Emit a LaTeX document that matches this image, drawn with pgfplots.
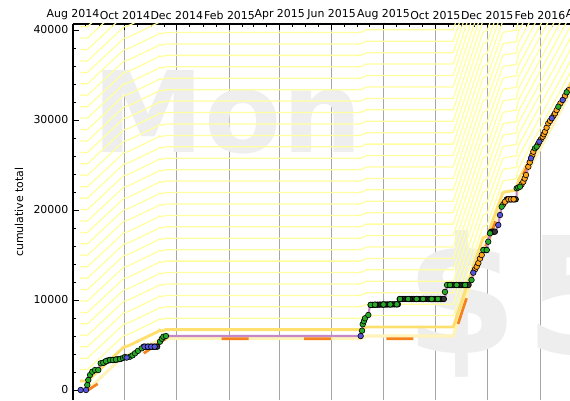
\documentclass[border=0pt]{standalone}
\usepackage{fontspec}
\setmainfont{DejaVu Sans}
\newfontfamily\wmfont{DejaVu Sans}
\usepackage{pgfplots}
\pgfplotsset{compat=1.18}
\usepackage{pgfplotstable}

\definecolor{fan}{RGB}{255,255,160}
\definecolor{bright}{RGB}{255,224,110}
\definecolor{palebase}{RGB}{255,243,185}
\definecolor{orangeline}{RGB}{245,130,30}
\definecolor{purp}{RGB}{198,135,198}
\definecolor{mgreen}{RGB}{40,170,40}
\definecolor{mblue}{RGB}{85,85,220}
\definecolor{morange}{RGB}{255,165,30}
\definecolor{wm}{RGB}{238,238,238}
\definecolor{gridgray}{RGB}{165,165,165}

% template shape of the yellow fan (relative to its flat level)
\pgfplotstableread{
d r
8 -5700
17 -5700
60 -1900
63 -1850
67 -1700
100 -200
102 -50
104 -150
109 0
338 0
345 300
447 300
482 10200
487 10400
505 15150
507 15300
521 15500
524 16700
600 30000
}\tmpl

\pgfplotstableread{
d v
9 0
15.3 0
16.8 556
18 1111
20 1667
22.7 2033
25.9 2222
29.7 2222
32.6 2967
35.6 3033
38.8 3200
43.5 3333
47 3333
50.6 3380
55.3 3444
58.8 3550
61.1 3667
63.1 3600
67 3700
72.9 4078
76.4 4350
80.8 4633
82.3 4811
99.9 4811
102.3 5367
106.2 5922
109.3 6000
338.2 6000
339.8 6589
340.6 7300
343.3 7967
347.2 8333
349.2 9444
382.1 9522
383.3 10111
437.3 10111
439.7 11667
466.7 11667
468.5 12222
470.6 13033
472.6 13400
474.6 13700
476.5 14100
478.5 14600
480.5 15000
482.4 15556
486.4 15556
488.2 16478
490.2 17411
491.5 17589
496 17589
498 17900
500 18333
502 19444
504 20367
505.9 20650
507.9 20922
509.9 21189
521.6 21189
521.6 22411
525.5 22589
527.4 22850
529.4 23144
531 23500
532.6 23889
533.4 24078
535.3 24811
537 25300
538.4 25744
540 26100
541.2 26478
543.1 26856
545.1 27033
546.7 27300
548.2 27589
550 27850
552.2 28144
553.5 28420
554.9 28700
556.8 29150
558.8 29633
560.8 29900
562.8 30189
564.8 30460
566.7 30744
568.6 31100
570.6 31478
573 31850
575.7 32222
578.4 32667
580.4 33078
582.5 33300
586 33700
590 34200
}\cumul

\pgfplotstableread{
d v
36.5 3050
38 3150
40 3250
42 3300
44 3333
46 3333
48 3340
50 3370
52 3400
54 3430
56 3460
83 4811
85 4811
87 4811
89 4811
91 4811
93 4811
95 4811
97 4811
99 4811
350 9460
352 9465
354 9470
356 9475
358 9480
360 9485
362 9490
364 9495
366 9500
368 9500
370 9505
372 9510
374 9510
376 9515
378 9515
380 9520
382 9522
384 10111
386 10111
388 10111
390 10111
392 10111
394 10111
396 10111
398 10111
400 10111
402 10111
404 10111
406 10111
408 10111
410 10111
412 10111
414 10111
416 10111
418 10111
420 10111
422 10111
424 10111
426 10111
428 10111
430 10111
432 10111
434 10111
436 10111
441 11667
443 11667
445 11667
447 11667
449 11667
451 11667
453 11667
455 11667
457 11667
459 11667
461 11667
463 11667
465 11667
483 15556
484.5 15556
486 15556
491.5 17589
493 17589
494.5 17589
496 17589
510 21189
511.5 21189
513 21189
514.5 21189
516 21189
517.5 21189
519 21189
520.5 21189
}\blackpts

\pgfplotstableread{
d v
16.8 556
18 1111
20 1667
22.7 2033
25.9 2222
29.7 2222
32.6 2967
35.6 3033
38.8 3200
43.5 3333
47 3333
50.6 3380
55.3 3444
58.8 3550
61.1 3667
67 3700
70 3850
72.9 4078
76.4 4350
80.8 4633
102.3 5367
104.5 5700
106.2 5922
109.3 6000
339.8 6589
340.6 7300
342 7650
343.3 7967
347.2 8333
350 9460
355 9475
365 9500
373 9510
380.6 9520
384.5 10111
394 10111
404 10111
411.5 10111
421.7 10111
429 10111
437.3 10900
439.7 11667
443.2 11667
451 11667
461 11667
468.5 12222
482.4 15556
486.4 15556
488.2 16478
490.2 17411
504 20367
521.6 22411
523.5 22500
525.5 22589
543.1 26856
545.1 27033
570.6 31478
580.4 33078
}\greenpts

\pgfplotstableread{
d v
9 0
15.3 0
63.1 3600
84 4811
88 4811
92 4811
96 4811
338.2 6000
470.6 13033
500 18333
502 19444
538.4 25744
548.2 27589
562.8 30189
575.7 32222
}\bluepts

\pgfplotstableread{
d v
472.6 13400
474.6 13700
476.5 14100
478.5 14600
480.5 15000
505.9 20650
507.9 20922
512 21189
515 21189
518 21189
527.4 22850
529.4 23144
531 23500
532.6 23889
535.3 24811
537 25300
540 26100
541.2 26478
546.7 27300
550 27850
552.2 28144
553.5 28420
554.9 28700
556.8 29150
558.8 29633
560.8 29900
564.8 30460
566.7 30744
568.6 31100
573 31850
578.4 32667
582.5 33300
586 33700
}\orangepts

\pgfplotstableread{
d v
18 0
109 5700
447 5700
463 10300
470 12400
476 14000
482 15300
490 17000
505 20800
521 22300
540 26000
560 29800
580 33000
590 34300
}\proj

\begin{document}
\begin{tikzpicture}
\begin{axis}[
  name=ax,
  set layers=standard,
  scale only axis, width=372.75pt, height=282pt,
  xmin=0, xmax=584.3, ymin=-1111, ymax=40667,
  axis x line=top, axis y line=left,
  axis line style={line width=0.9pt, -},
  x axis line style={-}, y axis line style={-},
  xtick={0,61,122,184,243,304,365,426,487,549},
  xticklabels={Aug 2014,Oct 2014,Dec 2014,Feb 2015,Apr 2015,Jun 2015,Aug 2015,Oct 2015,Dec 2015,Feb 2016},
  minor xtick={15,31,46,76,92,107,137,153,168,199,212,227,258,273,288,319,334,349,380,396,411,441,457,472,502,518,533,564,578},
  ytick={0,10000,20000,30000,40000},
  minor y tick num=4,
  scaled y ticks=false,
  tick align=inside,
  tick style={black, line width=0.6pt},
  major tick length=4.5pt, minor tick length=2.6pt,
  xmajorgrids, grid style={gridgray, line width=0.6pt},
  tick label style={font=\fontsize{8.2}{9.5}\selectfont},
  /pgf/number format/assume math mode=true,
  /pgf/number format/1000 sep={},
  ylabel={cumulative total},
  ylabel style={font=\fontsize{8.2}{9.5}\selectfont, at={(axis description cs:-0.1087,0.5)}, anchor=center},
]
\node[on layer=axis background, anchor=base west, inner sep=0, text=wm,
  font=\wmfont\bfseries\fontsize{84.4}{90}\selectfont] at (axis cs:23,26444) {Mon};
\node[on layer=axis background, anchor=base west, inner sep=0, text=wm,
  font=\wmfont\bfseries\fontsize{121.4}{130}\selectfont] at (axis cs:390,4111) {\$\hspace{6pt}5};

\pgfplotsinvokeforeach{1,...,32}{
  \addplot[fan, line width=0.95pt, no markers] table[x=d, y expr=\thisrow{r}+6700+#1*1270] {\tmpl};
}
\addplot[palebase, line width=2.3pt, no markers] table[x=d, y expr=\thisrow{r}+5700] {\tmpl};
\addplot[bright, line width=2.2pt, no markers] table[x=d, y expr=\thisrow{r}+6700] {\tmpl};
\addplot[orangeline, line width=2pt, no markers, dash pattern=on 20.25pt off 41.5pt, dash phase=11.85pt] table[x=d, y=v] {\proj};
\addplot[purp, line width=1.6pt, no markers] table[x=d, y=v] {\cumul};
\addplot[only marks, mark=*, mark size=2.1pt, mark options={draw=black, line width=0.45pt, fill=black!80}] table[x=d, y=v] {\blackpts};
\addplot[only marks, mark=*, mark size=2.1pt, mark options={draw=black, line width=0.45pt, fill=morange}] table[x=d, y=v] {\orangepts};
\addplot[only marks, mark=*, mark size=2.1pt, mark options={draw=black, line width=0.45pt, fill=mgreen}] table[x=d, y=v] {\greenpts};
\addplot[only marks, mark=*, mark size=2.1pt, mark options={draw=black, line width=0.45pt, fill=mblue}] table[x=d, y=v] {\bluepts};
\end{axis}
\node[anchor=south, inner sep=0.3333em, font=\fontsize{8.2}{9.5}\selectfont] at ([xshift=15.75pt]ax.north east) {Apr 2016};
\pgfresetboundingbox
\path[use as bounding box] ([xshift=-54.75pt,yshift=18pt]ax.north west) rectangle (ax.south east);
\end{tikzpicture}
\end{document}
